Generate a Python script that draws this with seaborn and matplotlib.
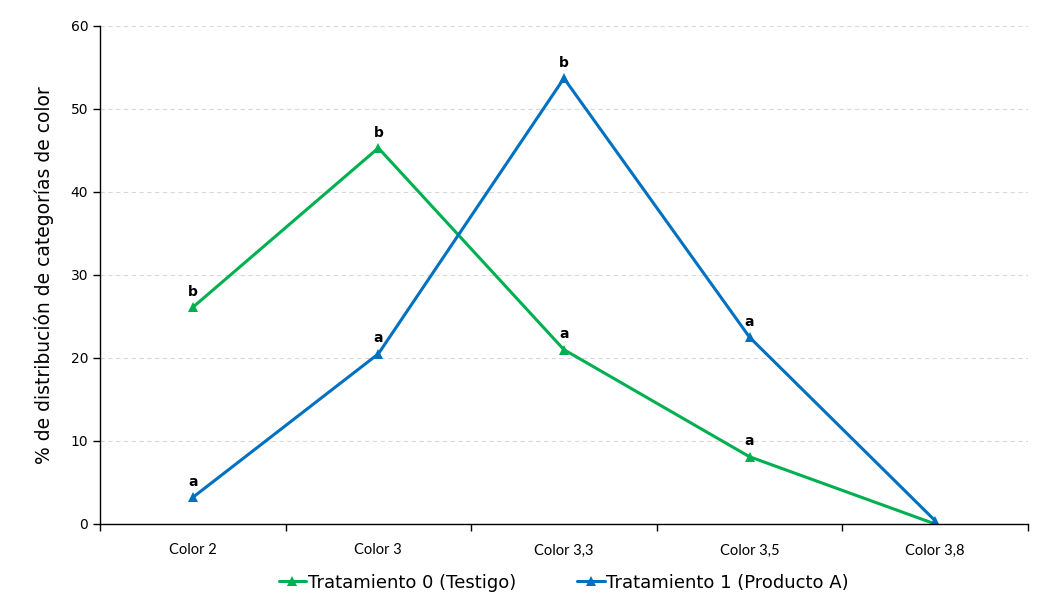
import pandas as pd
import matplotlib.pyplot as plt
import seaborn as sns

# values
categorias = ['Color 2', 'Color 3', 'Color 3,3', 'Color 3,5', 'Color 3,8']
testigo = [26.1, 45.3, 21.0, 8.1, 0.0]
producto_a = [3.2, 20.5, 53.7, 22.5, 0.4]
letras_testigo = ['b', 'b', 'a', 'a', '']
letras_producto = ['a', 'a', 'b', 'a', '']
series = ['Tratamiento 0 (Testigo)', 'Tratamiento 1 (Producto A)']
colores = ['#00B050', '#0070C0']

df = pd.DataFrame({
    'x': list(range(len(categorias))) * 2,
    'valor': testigo + producto_a,
    'serie': [series[0]] * len(categorias) + [series[1]] * len(categorias),
})

sns.set_style('white')
plt.rcParams['font.family'] = ['DejaVu Sans']
plt.rcParams.update({'text.color': 'black', 'axes.labelcolor': 'black',
                     'xtick.color': 'black', 'ytick.color': 'black'})

fig = plt.figure(figsize=(10.38, 6.0), dpi=100)
ax = fig.add_axes([0.0963, 0.1267, 0.8940, 0.8300])

sns.lineplot(data=df, x='x', y='valor', hue='serie', palette=colores,
             marker='^', markersize=7, markeredgewidth=0, linewidth=2.2,
             ax=ax)

# significance letters
for vals, letras in [(testigo, letras_testigo), (producto_a, letras_producto)]:
    for i, (v, l) in enumerate(zip(vals, letras)):
        if l:
            ax.annotate(l, (i, v), xytext=(0, 6), textcoords='offset points',
                        ha='center', va='bottom', fontsize=10,
                        fontweight='bold', color='black')

ax.set_xlim(-0.5, len(categorias) - 0.5)
ax.set_ylim(0, 60)
ax.set_yticks(range(0, 61, 10))
ax.yaxis.grid(True, color='#d9d9d9', linestyle=(0, (4, 3)), linewidth=0.8)
ax.set_axisbelow(True)

# category labels centred, tick marks on boundaries (Excel style)
ax.set_xticks([i - 0.5 for i in range(len(categorias) + 1)])
ax.set_xticklabels([])
ax.set_xticks(range(len(categorias)), minor=True)
ax.set_xticklabels(categorias, minor=True, fontfamily='Lato', fontsize=10.5)
ax.tick_params(axis='x', which='minor', length=0, pad=14)
ax.tick_params(axis='x', which='major', length=5, width=1, direction='out',
               color='black', bottom=True)
ax.tick_params(axis='y', length=5, width=1, direction='out', color='black',
               left=True, labelsize=10)

for s in ['top', 'right']:
    ax.spines[s].set_visible(False)
for s in ['left', 'bottom']:
    ax.spines[s].set_color('black')
    ax.spines[s].set_linewidth(1)

ax.set_xlabel('')
ax.set_ylabel('% de distribución de categorías de color', fontsize=13.5,
              labelpad=12)

leg = ax.legend(loc='center', bbox_to_anchor=(0.5, -0.118), ncol=2,
                frameon=False, handlelength=1.5, handletextpad=0.1,
                columnspacing=3.4, prop={'family': 'DejaVu Sans', 'size': 13})

fig.savefig('out.png', dpi=100)
